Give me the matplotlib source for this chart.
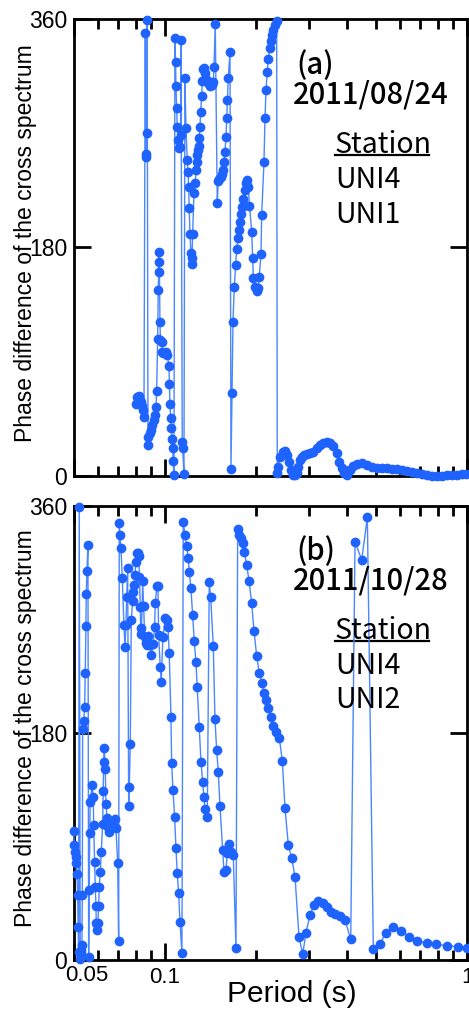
import matplotlib
matplotlib.use("Agg")
import matplotlib.pyplot as plt
from matplotlib.ticker import FixedLocator, NullFormatter

# (a) 2011/08/24, UNI4-UNI1
period_a = [
    0.08016, 0.08078, 0.08140, 0.08202, 0.08266, 0.08329, 0.08393, 0.08457, 0.08522, 0.08607,
    0.08639, 0.08666, 0.08699, 0.08732, 0.08786, 0.08820, 0.08920, 0.08988, 0.09078, 0.09196,
    0.09267, 0.09337, 0.09387, 0.09459, 0.09502, 0.09531, 0.09553, 0.09575, 0.09626, 0.09663,
    0.09751, 0.09800, 0.09871, 0.10077, 0.10177, 0.10310, 0.10350, 0.10389, 0.10444, 0.10492,
    0.10548, 0.10604, 0.10653, 0.10710, 0.10792, 0.10840, 0.10875, 0.10933, 0.10983, 0.11067,
    0.11152, 0.11211, 0.11260, 0.11297, 0.11409, 0.11444, 0.11558, 0.11646, 0.11736, 0.11853,
    0.11916, 0.11980, 0.12035, 0.12099, 0.12192, 0.12257, 0.12285, 0.12351, 0.12474, 0.12598,
    0.12666, 0.12734, 0.12792, 0.12890, 0.12959, 0.12989, 0.13058, 0.13128, 0.13229, 0.13290,
    0.13392, 0.13494, 0.13598, 0.13744, 0.13912, 0.14094, 0.14278, 0.14453, 0.14530, 0.14675,
    0.14901, 0.15015, 0.15130, 0.15292, 0.15409, 0.15527, 0.15682, 0.15802, 0.15923, 0.16008,
    0.16081, 0.16204, 0.16416, 0.16542, 0.16668, 0.16796, 0.16963, 0.17145, 0.17276, 0.17488,
    0.17622, 0.17716, 0.17893, 0.17989, 0.18168, 0.18405, 0.18546, 0.18731, 0.18874, 0.19050,
    0.19370, 0.19518, 0.19607, 0.19863, 0.20122, 0.20369, 0.20525, 0.20793, 0.20904, 0.21274,
    0.21437, 0.21601, 0.21816, 0.21983, 0.22270, 0.22440, 0.22664, 0.22837, 0.23135, 0.23437,
    0.2354, 0.2372, 0.2403, 0.2453, 0.2496, 0.2541, 0.2580, 0.2608, 0.2660, 0.2695,
    0.2730, 0.2763, 0.2799, 0.2836, 0.2886, 0.2946, 0.3020, 0.3098, 0.3179, 0.3261,
    0.3345, 0.3432, 0.3520, 0.3609, 0.3703, 0.3778, 0.3847, 0.3915, 0.3996, 0.4100,
    0.4203, 0.4313, 0.4479, 0.4655, 0.4835, 0.5023, 0.5219, 0.5421, 0.5630, 0.5851,
    0.6077, 0.6314, 0.6560, 0.6815, 0.7079, 0.7357, 0.7641, 0.7938, 0.8245, 0.8565,
    0.8899, 0.9245, 0.9605, 0.9924,
]
phase_a = [
    56.7, 62.2, 59.0, 63.0, 60.0, 58.3, 55.0, 52.0, 46.5, 349.0,
    253.6, 251.3, 270.0, 359.5, 30.7, 24.4, 33.9, 36.2, 40.2, 44.1,
    48.0, 54.4, 67.0, 108.0, 146.5, 160.7, 168.6, 176.4, 121.0, 107.0,
    105.5, 97.7, 96.9, 97.7, 95.3, 86.6, 72.5, 56.7, 45.7, 37.8,
    29.1, 22.0, 11.8, 0.5, 344.8, 326.3, 307.4, 289.6, 275.0, 264.7,
    258.0, 259.0, 268.6, 343.4, 27.0, 21.8, 1.6, 313.5, 274.0, 249.0,
    239.7, 228.0, 210.9, 191.0, 175.4, 167.0, 171.7, 191.0, 222.7, 230.6,
    241.0, 247.6, 252.9, 256.8, 260.2, 266.5, 275.1, 286.5, 299.3, 311.4,
    320.3, 321.6, 317.2, 311.9, 309.3, 307.4, 308.0, 310.6, 322.4, 355.8,
    214.8, 232.6, 233.9, 235.3, 237.6, 241.0, 247.6, 255.0, 267.3, 281.7,
    296.2, 313.3, 334.2, 5.3, 65.6, 121.5, 148.6, 166.2, 179.0, 187.2,
    193.8, 200.3, 206.1, 212.1, 218.0, 225.3, 230.6, 233.2, 227.9, 213.0,
    192.4, 171.5, 155.7, 148.6, 146.0, 147.8, 157.0, 174.9, 205.6, 247.6,
    281.7, 304.0, 318.5, 328.2, 336.9, 342.9, 347.4, 351.3, 355.3, 358.7,
    2.1, 7.3, 15.2, 19.2, 19.9, 16.5, 11.3, 4.7, 0.8, 0.5,
    2.1, 7.3, 12.6, 15.2, 16.5, 17.3, 17.8, 19.2, 21.8, 24.4,
    26.2, 27.0, 26.2, 23.6, 17.8, 11.3, 6.0, 2.1, 0.8, 4.7,
    7.9, 9.5, 10.0, 8.7, 7.3, 6.5, 6.0, 6.0, 5.8, 5.2,
    4.7, 3.9, 2.9, 2.1, 1.3, 0.5, 0.3, 0.3, 0.3, 0.5,
    0.8, 0.8, 1.2, 1.5,
]

# (b) 2011/10/28, UNI4-UNI2
period_b = [
    0.04985, 0.05008, 0.05035, 0.05062, 0.05085, 0.05112, 0.05140, 0.05164, 0.05179, 0.05203,
    0.05243, 0.05263, 0.05291, 0.05311, 0.05327, 0.05340, 0.05381, 0.05422, 0.05447, 0.05476,
    0.05489, 0.05518, 0.05560, 0.05590, 0.05616, 0.05637, 0.05659, 0.05733, 0.05790, 0.05808,
    0.05852, 0.05879, 0.05911, 0.05924, 0.05956, 0.06002, 0.06034, 0.06062, 0.06108, 0.06155,
    0.06221, 0.06249, 0.06268, 0.06297, 0.06345, 0.06379, 0.06428, 0.06477, 0.06542, 0.06592,
    0.06678, 0.06816, 0.06884, 0.06974, 0.07027, 0.07060, 0.07097, 0.07152, 0.07223, 0.07317,
    0.07373, 0.07430, 0.07470, 0.07527, 0.07585, 0.07620, 0.07678, 0.07737, 0.07820, 0.07856,
    0.07916, 0.07958, 0.08016, 0.08096, 0.08140, 0.08183, 0.08233, 0.08284, 0.08316, 0.08361,
    0.08405, 0.08437, 0.08502, 0.08567, 0.08653, 0.08719, 0.08786, 0.08873, 0.08941, 0.09009,
    0.09126, 0.09245, 0.09288, 0.09408, 0.09480, 0.09531, 0.09648, 0.09722, 0.09849, 0.10023,
    0.10154, 0.10231, 0.10333, 0.10468, 0.10524, 0.10629, 0.10768, 0.10875, 0.10983, 0.11101,
    0.11211, 0.11381, 0.11497, 0.11646, 0.11799, 0.11944, 0.12035, 0.12192, 0.12351, 0.12503,
    0.12666, 0.12792, 0.12989, 0.13158, 0.13330, 0.13464, 0.13567, 0.13807, 0.14019, 0.14170,
    0.14453, 0.14642, 0.14833, 0.15015, 0.15211, 0.15527, 0.15682, 0.15923, 0.16081, 0.16329,
    0.16505, 0.16835, 0.17184, 0.17408, 0.17622, 0.17811, 0.18085, 0.18307, 0.18645, 0.18975,
    0.19370, 0.19713, 0.20122, 0.20525, 0.20904, 0.21274, 0.21601, 0.21983, 0.22387, 0.22837,
    0.23366, 0.23907, 0.24460, 0.24969, 0.25608, 0.26281, 0.26951, 0.27786, 0.28581, 0.29309,
    0.30216, 0.31153, 0.32192, 0.33290, 0.34321, 0.35467, 0.36566, 0.37985, 0.39459, 0.41211,
    0.42585, 0.44817, 0.46774, 0.48962, 0.51520, 0.53931, 0.57037, 0.60346, 0.64418, 0.68464,
    0.73545, 0.78980, 0.85672, 0.93576, 0.99772,
]
phase_b = [
    102.0, 91.0, 86.0, 82.0, 77.0, 68.0, 51.5, 26.0, 6.0, 359.0,
    0.5, 5.8, 8.0, 12.0, 51.5, 183.0, 189.8, 200.6, 227.6, 265.0,
    290.0, 308.5, 329.0, 2.4, 55.5, 101.0, 125.5, 138.8, 129.5, 107.0,
    78.0, 58.0, 42.8, 29.6, 23.8, 29.6, 42.8, 58.0, 70.0, 85.9,
    107.8, 134.3, 157.2, 167.9, 151.2, 123.7, 112.3, 105.5, 101.7, 106.0,
    108.0, 111.5, 104.4, 77.2, 15.3, 346.8, 337.0, 326.5, 302.7, 265.6,
    248.5, 265.6, 287.6, 310.6, 122.4, 137.4, 171.3, 269.6, 284.9, 292.0,
    297.4, 305.3, 315.8, 322.5, 323.0, 320.4, 303.9, 280.2, 258.5, 263.0,
    281.0, 300.5, 280.7, 256.4, 251.1, 250.0, 256.9, 250.6, 249.8, 241.9,
    250.6, 264.3, 283.3, 296.6, 296.6, 257.7, 232.6, 220.7, 256.4, 271.0,
    269.6, 264.3, 243.7, 192.4, 156.0, 134.8, 113.1, 88.6, 68.7, 52.9,
    30.4, 5.3, 347.6, 337.0, 328.3, 318.5, 307.9, 294.7, 273.6, 253.0,
    236.0, 216.2, 184.5, 157.3, 141.4, 129.5, 119.5, 113.2, 299.5, 287.6,
    249.3, 190.9, 166.3, 149.3, 122.1, 86.9, 70.0, 71.4, 84.6, 92.0,
    85.9, 83.3, 9.3, 341.5, 337.0, 334.4, 330.4, 323.8, 313.2, 300.8,
    282.8, 261.1, 241.0, 227.8, 219.4, 212.0, 206.2, 199.6, 192.9, 185.8,
    181.0, 176.2, 158.0, 120.3, 91.2, 80.6, 66.1, 18.0, 4.8, 21.7,
    35.7, 43.6, 47.0, 45.0, 41.8, 38.3, 36.5, 34.9, 31.7, 16.4,
    331.7, 317.2, 351.0, 8.5, 12.7, 21.7, 25.9, 23.2, 18.5, 15.3,
    13.2, 12.4, 11.4, 10.6, 9.8,
]

panel_tags = ["(a)", "(b)"]
event_dates = ["2011/08/24", "2011/10/28"]
station_pairs = [["UNI4", "UNI1"], ["UNI4", "UNI2"]]
phase_ticks = [0, 180, 360]
period_major = [0.05, 0.1, 1.0]
period_minor = [0.06, 0.07, 0.08, 0.09, 0.2, 0.3, 0.4, 0.5, 0.6, 0.7, 0.8, 0.9]

plt.rcParams["font.family"] = ["Liberation Sans", "DejaVu Sans"]
jp_font = ["Noto Sans CJK JP", "DejaVu Sans"]

fig = plt.figure(figsize=(4.69, 10.14), dpi=100)
ax_a = fig.add_axes([0.1578, 0.5306, 0.8380, 0.4507])
ax_b = fig.add_axes([0.1578, 0.0533, 0.8380, 0.4477])

series = [(period_a, phase_a), (period_b, phase_b)]
for i, ax in enumerate([ax_a, ax_b]):
    per, ph = series[i]
    ax.plot(per, ph, "-o", color="#4a86ff", lw=1.0, ms=6,
            mfc="#1f63ff", mec="#1f63ff", clip_on=False, zorder=3)
    ax.set_xscale("log")
    ax.set_xlim(0.05, 1.0)
    ax.set_ylim(0, 360)
    ax.set_yticks(phase_ticks)
    ax.set_yticklabels([str(t) for t in phase_ticks], fontsize=16.5)
    ax.xaxis.set_major_locator(FixedLocator(period_major))
    ax.xaxis.set_minor_locator(FixedLocator(period_minor))
    ax.xaxis.set_minor_formatter(NullFormatter())
    ax.tick_params(which="both", direction="in", top=True, right=True, width=2)
    ax.tick_params(which="major", length=12, pad=5)
    ax.tick_params(which="minor", length=7)
    for sp in ax.spines.values():
        sp.set_linewidth(2)

    ax.set_ylabel("Phase difference of the cross spectrum", fontsize=16.5)
    ax.yaxis.set_label_coords(-0.095, 0.51)

    # panel tag and date
    ax.text(0.567, 0.880, panel_tags[i], transform=ax.transAxes,
            family=jp_font, fontsize=21, fontweight="medium", va="baseline")
    ax.text(0.557, 0.816, event_dates[i], transform=ax.transAxes,
            family=jp_font, fontsize=21, fontweight="medium", va="baseline")
    # station pair with underlined heading
    ax.text(0.664, 0.706, "Station", transform=ax.transAxes,
            family=jp_font, fontsize=20.5, va="baseline")
    ax.plot([0.664, 0.903], [0.702, 0.702], transform=ax.transAxes,
            color="black", lw=1.6, clip_on=False)
    for k, name in enumerate(station_pairs[i]):
        ax.text(0.664, 0.630 - 0.076 * k, name, transform=ax.transAxes,
                family=jp_font, fontsize=20.5, va="baseline")

ax_a.set_xticklabels([])
ax_b.set_xticklabels(["", "0.1", "1"], fontsize=16)
ax_b.annotate("0.05", xy=(0.05, 0), xycoords=("data", "axes fraction"),
              xytext=(13, -5), textcoords="offset pixels",
              ha="center", va="top", fontsize=16)
ax_b.set_xlabel("Period (s)", fontsize=21.5)
ax_b.xaxis.set_label_coords(0.555, -0.045)

fig.savefig("out.png", dpi=100)
